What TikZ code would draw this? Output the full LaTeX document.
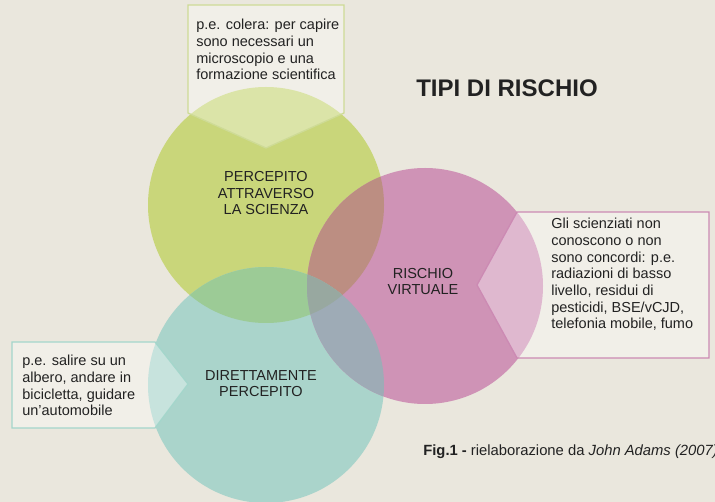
\documentclass[tikz,border=0pt]{standalone}
\usepackage{fontspec}
\setmainfont{Liberation Sans}
\usepackage{xcolor}
\definecolor{bgbeige}{RGB}{234,231,221}
\definecolor{mygreen}{RGB}{201,214,122}
\definecolor{myteal}{RGB}{170,212,203}
\definecolor{mypink}{RGB}{207,147,182}
\definecolor{greenpink}{RGB}{188,142,130}
\definecolor{greenteal}{RGB}{156,203,150}
\definecolor{tealpink}{RGB}{158,171,182}
\definecolor{allthree}{RGB}{152,168,160}
\definecolor{greenline}{RGB}{206,219,150}
\definecolor{tealline}{RGB}{164,214,203}
\definecolor{pinkline}{RGB}{204,138,179}
\definecolor{mytext}{RGB}{34,34,34}

\begin{document}
\begin{tikzpicture}[x=1pt,y=-1pt,semithick]
  \tikzstyle{label}=[text=mytext,font=\fontsize{14.5}{16.6}\selectfont,align=center,anchor=base]
  \tikzstyle{note}=[text=mytext,font=\fontsize{14.5}{16.7}\selectfont,align=left,anchor=base west,inner sep=0pt]
  \tikzstyle{callout}=[fill=white,fill opacity=0.35,line width=1.3pt]

  \clip (0,0) rectangle (715,502);
  \fill[bgbeige] (0,0) rectangle (715,502);

  \coordinate (G) at (266,205);
  \coordinate (T) at (266,385);
  \coordinate (P) at (425,286);

  % the three circles
  \fill[mygreen] (G) circle (118pt);
  \fill[myteal]  (T) circle (118pt);
  \fill[mypink]  (P) circle (118pt);

  % overlaps
  \begin{scope}
    \clip (G) circle (118pt);
    \fill[greenpink] (P) circle (118pt);
    \fill[greenteal] (T) circle (118pt);
  \end{scope}
  \begin{scope}
    \clip (T) circle (118pt);
    \fill[tealpink] (P) circle (118pt);
  \end{scope}
  \begin{scope}
    \clip (G) circle (118pt);
    \clip (T) circle (118pt);
    \fill[allthree] (P) circle (118pt);
  \end{scope}

  % callouts
  \draw[callout,draw=greenline] (188,5) -- (344,5) -- (344,113) -- (266,148) -- (188,113) -- cycle;
  \draw[callout,draw=pinkline] (517,212) -- (709,212) -- (709,358) -- (517,358) -- (477,285) -- cycle;
  \draw[callout,draw=tealline] (12,342) -- (155,342) -- (188,384) -- (155,428) -- (12,428) -- cycle;

  % base = last line
  \node[label] (science) at (266,215) {PERCEPITO\\ATTRAVERSO\\LA SCIENZA};
  \node[label] (virtual) at (423,295) {RISCHIO\\VIRTUALE};
  \node[label] (direct)  at (261,397) {DIRETTAMENTE\\PERCEPITO};

  \node[note] (sciencenote) at (196,80) {p.e. colera: per capire\\sono necessari un\\microscopio e una\\formazione scientifica};
  \node[note] (virtualnote) at (551,329) {Gli scienziati non\\conoscono o non\\sono concordi: p.e.\\radiazioni di basso\\livello, residui di\\pesticidi, BSE/vCJD,\\telefonia mobile, fumo};
  \node[note] (directnote)  at (22,416) {p.e. salire su un\\albero, andare in\\bicicletta, guidare\\un'automobile};

  \node[anchor=base,text=mytext,font=\fontsize{24}{28}\selectfont\bfseries] (title) at (507,97) {TIPI DI RISCHIO};
  \node[anchor=base west,inner sep=0pt,text=mytext,font=\fontsize{14.8}{17}\selectfont] (caption) at (423,456) {\textbf{Fig.1 -} rielaborazione da \textit{John Adams (2007)}};
\end{tikzpicture}
\end{document}
